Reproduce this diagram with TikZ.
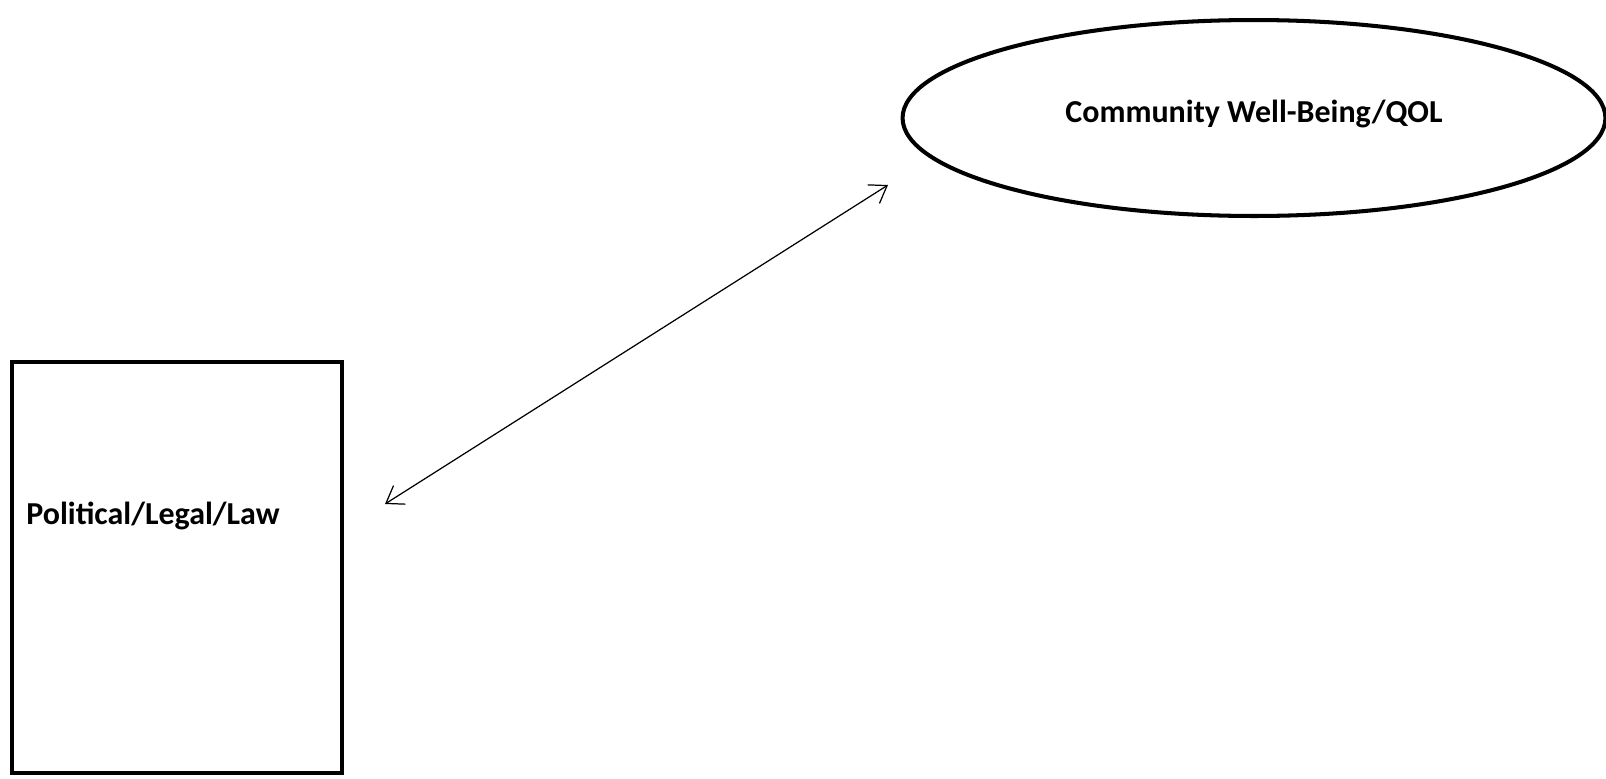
\documentclass[tikz,border=0pt]{standalone}
\usepackage{fontspec}
\setmainfont{Carlito}
\usetikzlibrary{arrows.meta,shapes.geometric}

\begin{document}
\begin{tikzpicture}[x=0.02cm,y=-0.02cm,
  box/.style={draw=black,line width=2.3pt,minimum width=6.6cm,minimum height=8.22cm,inner sep=0pt},
  oval/.style={ellipse,draw=black,line width=2.3pt,minimum width=14.06cm,minimum height=3.92cm,inner sep=0pt},
  lab/.style={font=\fontsize{18.2}{21}\selectfont\bfseries,inner sep=0pt},
  link/.style={{Straight Barb[length=3.2mm,width=4.4mm]}-{Straight Barb[length=3.2mm,width=4.4mm]},line width=0.7pt}]
\useasboundingbox (0,0) rectangle (1606,778);

% ---------- the two blocks ----------
\node[box] (pol) at (177,567.5) {};
\node[lab,anchor=west] (polt) at (26,516) {Political/Legal/Law};
\node[oval] (cwb) at (1254,118) {};
\node[lab] (cwbt) at (1254,114) {Community Well-Being/QOL};

% ---------- link between them ----------
\coordinate (pA) at (385,504);
\coordinate (pB) at (888,185);
\draw[link] (pA) -- (pB);
\end{tikzpicture}
\end{document}
